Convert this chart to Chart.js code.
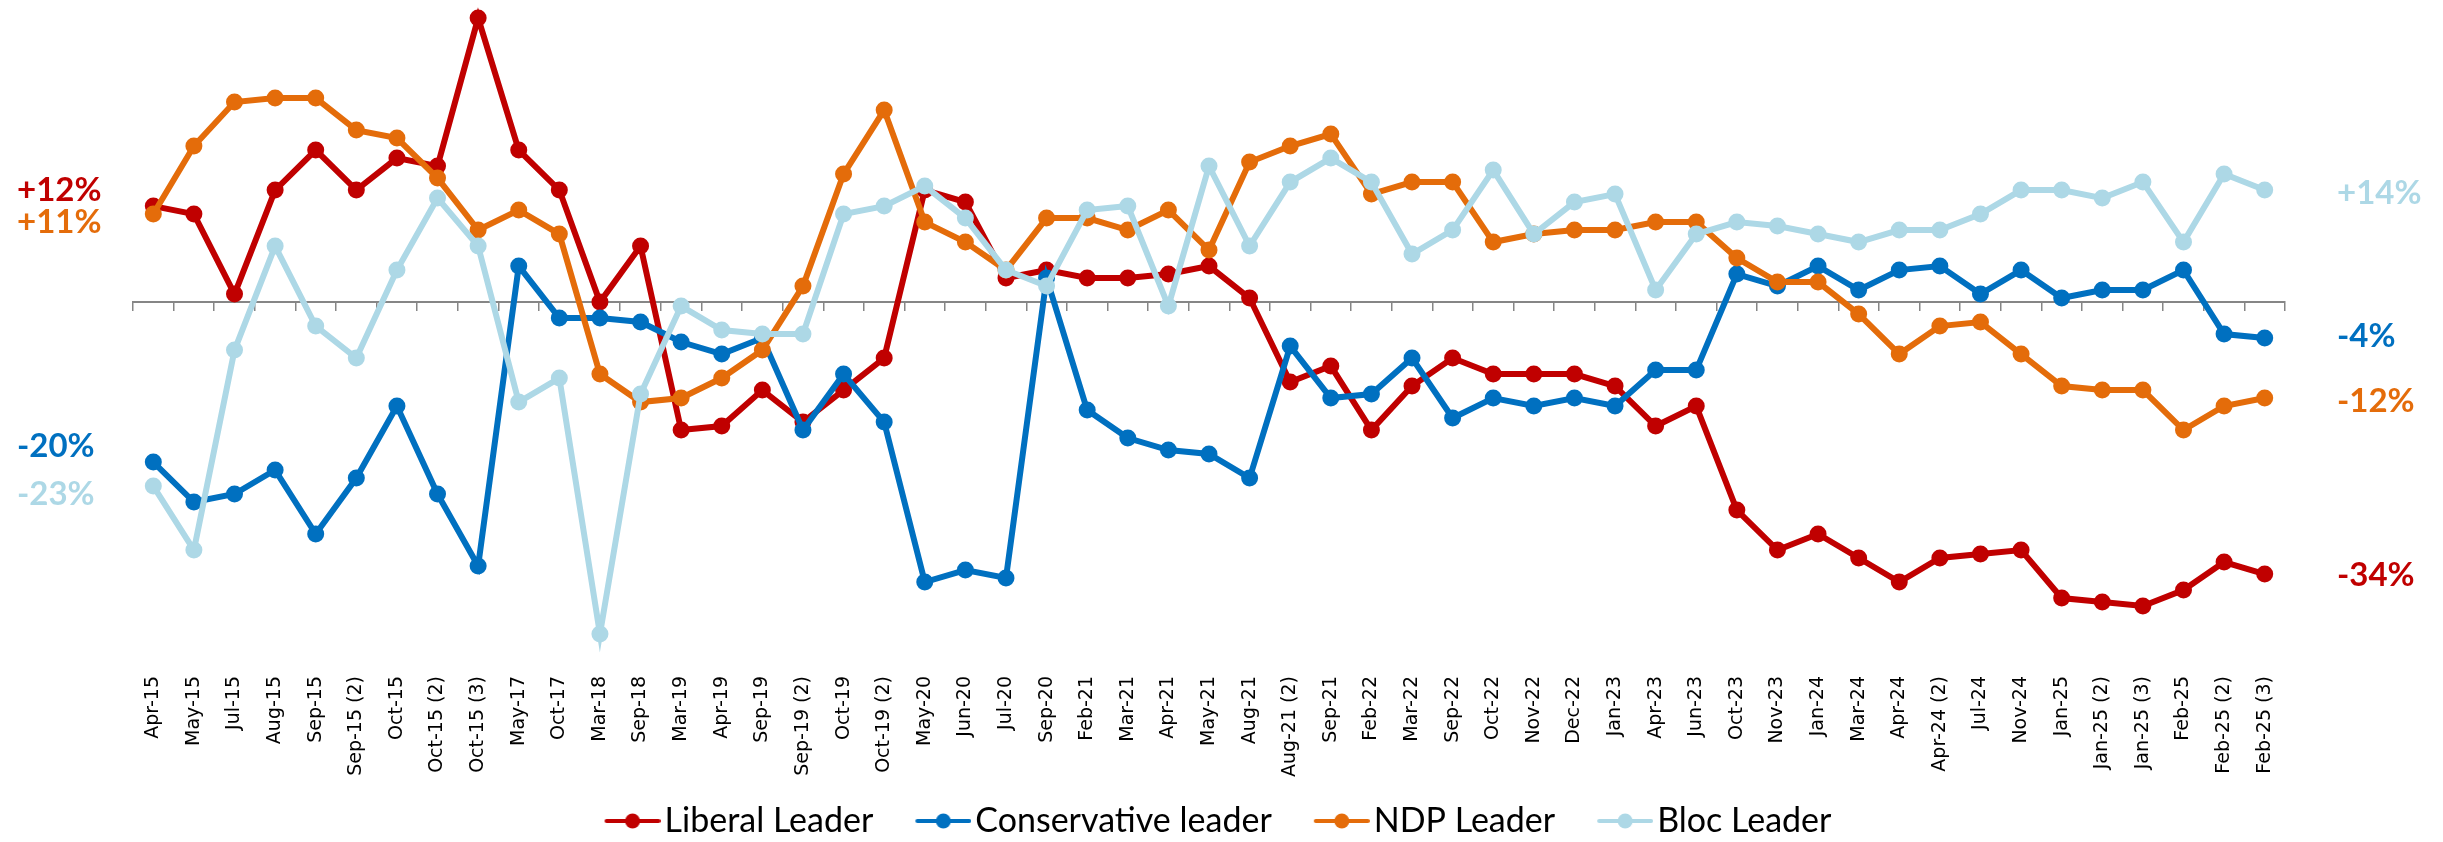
<!DOCTYPE html>
<html>
<head>
<meta charset="utf-8">
<script src="https://cdn.jsdelivr.net/npm/chart.js@4.4.1/dist/chart.umd.min.js"></script>
<style>
    html, body { margin: 0; padding: 0; background: #fff; }
    #wrap { width: 2443px; height: 842px; }
</style>
</head>
<body>
<div id="wrap"><canvas id="leaderChart" width="2443" height="842"></canvas></div>
<script>
const categories = ["Apr-15", "May-15", "Jul-15", "Aug-15", "Sep-15", "Sep-15 (2)", "Oct-15", "Oct-15 (2)", "Oct-15 (3)",
    "May-17", "Oct-17", "Mar-18", "Sep-18", "Mar-19", "Apr-19", "Sep-19", "Sep-19 (2)", "Oct-19", "Oct-19 (2)",
    "May-20", "Jun-20", "Jul-20", "Sep-20", "Feb-21", "Mar-21", "Apr-21", "May-21", "Aug-21", "Aug-21 (2)",
    "Sep-21", "Feb-22", "Mar-22", "Sep-22", "Oct-22", "Nov-22", "Dec-22", "Jan-23", "Apr-23", "Jun-23",
    "Oct-23", "Nov-23", "Jan-24", "Mar-24", "Apr-24", "Apr-24 (2)", "Jul-24", "Nov-24", "Jan-25", "Jan-25 (2)",
    "Jan-25 (3)", "Feb-25", "Feb-25 (2)", "Feb-25 (3)"];

const liberal = [12, 11, 1, 14, 19, 14, 18, 17, 35.5, 19, 14, 0, 7, -16, -15.5, -11, -15, -11, -7,
    14, 12.5, 3, 4, 3, 3, 3.5, 4.5, 0.5, -10, -8, -16, -10.5, -7, -9, -9, -9, -10.5, -15.5, -13,
    -26, -31, -29, -32, -35, -32, -31.5, -31, -37, -37.5, -38, -36, -32.5, -34];

const conservative = [-20, -25, -24, -21, -29, -22, -13, -24, -33, 4.5, -2, -2, -2.5, -5, -6.5, -4.5, -16, -9, -15,
    -35, -33.5, -34.5, 3, -13.5, -17, -18.5, -19, -22, -5.5, -12, -11.5, -7, -14.5, -12, -13, -12, -13, -8.5, -8.5,
    3.5, 2, 4.5, 1.5, 4, 4.5, 1, 4, 0.5, 1.5, 1.5, 4, -4, -4.5];

const ndp = [11, 19.5, 25, 25.5, 25.5, 21.5, 20.5, 15.5, 9, 11.5, 8.5, -9, -12.5, -12, -9.5, -6, 2, 16, 24,
    10, 7.5, 4, 10.5, 10.5, 9, 11.5, 6.5, 17.5, 19.5, 21, 13.5, 15, 15, 7.5, 8.5, 9, 9, 10, 10,
    5.5, 2.5, 2.5, -1.5, -6.5, -3, -2.5, -6.5, -10.5, -11, -11, -16, -13, -12];

const bloc = [-23, -31, -6, 7, -3, -7, 4, 13, 7, -12.5, -9.5, -41.5, -11.5, -0.5, -3.5, -4, -4, 11, 12,
    14.5, 10.5, 4, 2, 11.5, 12, -0.5, 17, 7, 15, 18, 15, 6, 9, 16.5, 8.5, 12.5, 13.5, 1.5, 8.5,
    10, 9.5, 8.5, 7.5, 9, 9, 11, 14, 14, 13, 15, 7.5, 16, 14];

const seriesNames = ["Liberal Leader", "Conservative leader", "NDP Leader", "Bloc Leader"];
const startLabels = ["+12%", "-20%", "+11%", "-23%"];
const endLabels = ["-34%", "-4%", "-12%", "+14%"];

const colors = ['#C00000', '#0070C0', '#E46C0A', '#ADD8E6'];

// where the side labels sit, in axis units (hand placed so they don't collide)
const startAt = [14, -18, 10, -24];
const endAt = [-34.2, -4.3, -12.4, 13.6];

// excel style legend key: short line with a dot, pushed to the right of the box
function legendMarker(color) {
    const c = document.createElement('canvas');
    c.width = 87;
    c.height = 18;
    const g = c.getContext('2d');
    g.strokeStyle = color;
    g.lineWidth = 4;
    g.lineCap = 'round';
    g.beginPath();
    g.moveTo(33, 9);
    g.lineTo(85, 9);
    g.stroke();
    g.fillStyle = color;
    g.beginPath();
    g.arc(59, 9, 7.5, 0, Math.PI * 2);
    g.fill();
    return c;
}

const sideLabels = {
    id: 'sideLabels',
    afterDatasetsDraw(chart) {
        const { ctx, chartArea } = chart;
        const y = chart.scales.y;
        ctx.save();
        ctx.font = 'bold 33px Lato';
        ctx.textBaseline = 'middle';
        ctx.textAlign = 'left';
        for (let i = 0; i < colors.length; i++) {
            ctx.fillStyle = colors[i];
            ctx.fillText(startLabels[i], 17, y.getPixelForValue(startAt[i]));
            ctx.fillText(endLabels[i], chartArea.right + 52, y.getPixelForValue(endAt[i]));
        }
        ctx.restore();
    }
};

const seriesData = [liberal, conservative, ndp, bloc];

let leaderData = {
    labels: categories,
    datasets: seriesData.map((values, i) => ({
        label: seriesNames[i],
        data: values,
        borderColor: colors[i],
        backgroundColor: colors[i],
        pointBackgroundColor: colors[i],
        pointBorderColor: colors[i],
        borderWidth: 6,
        pointRadius: 8.5,
        pointBorderWidth: 0,
        tension: 0,
        clip: false,
        order: colors.length - i,
        xAxisID: 'x'
    }))
};

let leaderOptions = {
    responsive: false,
    animation: false,
    layout: {
        padding: { left: 133, right: 158, top: 0, bottom: -6 }
    },
    scales: {
        y: {
            display: false,
            min: -45,
            max: 36.7
        },
        x: {
            type: 'category',
            position: { y: 0 },
            offset: true,
            grid: {
                display: true,
                offset: true,
                drawOnChartArea: false,
                drawTicks: true,
                tickLength: 8,
                color: '#868686',
                lineWidth: 1.5
            },
            border: { display: true, color: '#868686', width: 2 },
            ticks: { display: false }
        },
        x2: {
            type: 'category',
            labels: categories,
            position: 'bottom',
            offset: true,
            grid: { display: false, drawTicks: false },
            border: { display: false },
            ticks: {
                autoSkip: false,
                minRotation: 90,
                maxRotation: 90,
                padding: 14,
                color: '#000',
                font: { family: 'DejaVu Sans', size: 19 }
            },
            afterFit(scale) {
                scale.height = 118;
            }
        }
    },
    plugins: {
        tooltip: { enabled: false },
        legend: {
            position: 'bottom',
            labels: {
                usePointStyle: true,
                pointStyleWidth: 61,
                padding: 24,
                color: '#000',
                font: { family: 'Lato', size: 34 },
                generateLabels(chart) {
                    return chart.data.datasets.map((ds, i) => ({
                        text: ds.label,
                        pointStyle: legendMarker(ds.borderColor),
                        fillStyle: ds.borderColor,
                        strokeStyle: ds.borderColor,
                        lineWidth: 0,
                        fontColor: '#000',
                        hidden: false,
                        datasetIndex: i
                    }));
                }
            }
        }
    }
};

let leaderChart = new Chart(document.getElementById('leaderChart'), {
    type: 'line',
    data: leaderData,
    options: leaderOptions,
    plugins: [sideLabels]
});
</script>
</body>
</html>
